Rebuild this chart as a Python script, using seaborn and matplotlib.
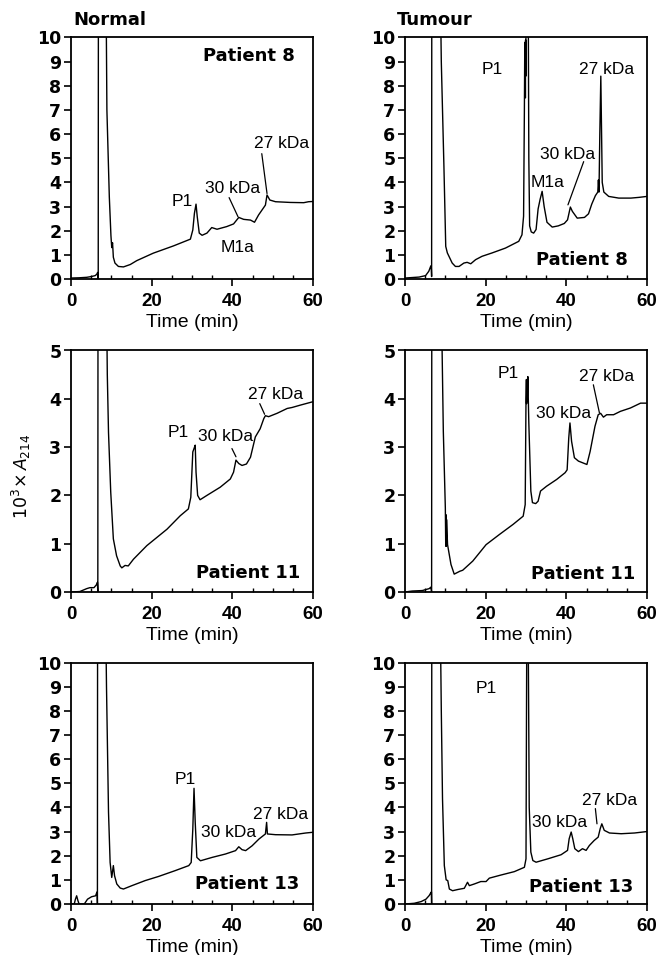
import pandas as pd
import seaborn as sns
import matplotlib.pyplot as plt
from matplotlib.ticker import MultipleLocator

# HPLC traces: time (min) vs 10^3 x A214
# values above the axis top are off-scale peaks, clipped by ylim

t_normal_8 = [0, 2, 3.9, 5, 6, 6.4, 6.6, 6.75, 6.8, 8.6, 8.9, 9.5, 9.9, 10.1, 10.3, 10.5, 10.9,
              11.75, 13, 14.7, 16.3, 20.4, 25.4, 29.6, 30.2, 30.6, 31.0, 31.3, 31.8, 32.5, 33.7,
              34.9, 36.2, 38.6, 40.3, 41.6, 42.8, 44.5, 45.5, 46.5, 48.2, 48.6, 49.3, 50.7, 54.4,
              57.7, 58.9, 60]
a_normal_8 = [0.04, 0.05, 0.07, 0.1, 0.14, 0.2, 0.27, 0.0, 14, 14, 7.0, 3.4, 1.8, 1.3, 1.5, 0.9, 0.66,
              0.52, 0.5, 0.6, 0.76, 1.07, 1.37, 1.65, 2.03, 2.72, 3.1, 2.58, 1.9, 1.81, 1.9,
              2.13, 2.06, 2.17, 2.28, 2.55, 2.47, 2.44, 2.35, 2.65, 3.06, 3.48, 3.27, 3.2, 3.17,
              3.16, 3.2, 3.21]

t_tumour_8 = [0, 3.5, 5.1, 5.9, 6.35, 6.5, 6.6, 6.65, 8.6, 9.0, 9.65, 10.1, 10.5, 10.9, 11.7, 12.5,
              13.4, 14.6, 15.4, 16.3, 17.5, 19.1, 21.6, 24.9, 28.2, 29.0, 29.4, 29.6, 29.7, 29.75,
              29.8, 29.85, 29.9, 29.95, 30.05, 30.5, 30.7, 30.9, 31.3, 31.9, 32.5, 33.0, 33.5, 34.0,
              34.5, 35.2, 36.5, 38.0, 39.5, 40.3, 41.0, 41.5, 42.7, 44.5, 45.5, 46.3, 47.2, 47.8,
              47.95, 48.1, 48.3, 48.55, 48.9, 49.3, 50.5, 53, 56, 58, 60]
a_tumour_8 = [0.04, 0.08, 0.14, 0.32, 0.52, 0.55, 0.1, 14, 14, 9.0, 4.66, 1.35, 1.08, 0.94, 0.66, 0.52,
              0.52, 0.66, 0.69, 0.63, 0.8, 0.94, 1.08, 1.28, 1.56, 1.83, 2.6, 7.0, 9.8, 8.2,
              9.7, 7.5, 9.9, 8.4, 14, 14, 5.0, 2.2, 1.95, 1.9, 2.05, 2.9, 3.3, 3.63,
              3.0, 2.35, 2.15, 2.2, 2.3, 2.45, 2.98, 2.8, 2.52, 2.55, 2.7, 3.1, 3.45, 3.6,
              4.1, 3.6, 6.0, 8.4, 4.0, 3.6, 3.42, 3.35, 3.35, 3.38, 3.42]

t_normal_11 = [0, 2.2, 3.9, 4.7, 5.7, 6.4, 6.55, 6.65, 6.7, 8.7, 9.0, 9.3, 9.85, 10.5, 11.3, 12.2,
               12.6, 13.4, 14.2, 15.5, 18.8, 23.8, 27.1, 29.1, 29.7, 30.2, 30.5, 30.8, 31.0, 31.4,
               32.0, 33.7, 37.0, 39.5, 40.3, 40.9, 41.6, 42.4, 43.5, 44.5, 45.7, 46.9, 47.8, 48.2,
               49.0, 51.1, 53.6, 54.8, 56.9, 60]
a_normal_11 = [0, 0.01, 0.07, 0.09, 0.09, 0.16, 0.2, 0.0, 7, 7, 4.5, 3.3, 2.07, 1.1, 0.75, 0.54,
               0.5, 0.55, 0.54, 0.68, 0.96, 1.3, 1.58, 1.72, 1.96, 2.9, 2.97, 3.04, 2.48, 2.0,
               1.91, 2.0, 2.17, 2.34, 2.48, 2.73, 2.66, 2.62, 2.65, 2.79, 3.21, 3.38, 3.59, 3.65,
               3.63, 3.7, 3.8, 3.82, 3.87, 3.94]

t_tumour_11 = [0, 1.8, 4.3, 6.0, 6.4, 6.6, 6.65, 8.9, 9.2, 9.5, 10.0, 10.1, 10.15, 10.25, 10.3, 10.55,
               11.4, 12.2, 12.9, 13.6, 14.3, 16.8, 20.1, 23.4, 26.8, 29.3, 29.8, 30.0, 30.1, 30.15,
               30.2, 30.3, 30.45, 30.7, 31.2, 31.6, 32.4, 33.0, 33.6, 35.1, 37.6, 39.7, 40.2, 40.6,
               40.9, 41.3, 42.0, 43.0, 44.2, 45.1, 45.9, 47.1, 47.9, 48.5, 49.2, 50.0, 51.7, 53.4,
               55.9, 58.4, 60]
a_tumour_11 = [0, 0.02, 0.03, 0.07, 0.1, 0.0, 7, 7, 5.0, 3.33, 1.74, 0.95, 1.6, 0.95, 1.5, 0.98,
               0.57, 0.37, 0.4, 0.43, 0.45, 0.64, 0.98, 1.19, 1.4, 1.57, 1.81, 4.0, 4.4, 3.9,
               4.3, 3.95, 4.46, 3.5, 2.09, 1.85, 1.83, 1.88, 2.09, 2.19, 2.33, 2.47, 2.53, 3.19,
               3.5, 3.12, 2.78, 2.71, 2.67, 2.64, 2.91, 3.43, 3.67, 3.7, 3.62, 3.67, 3.67, 3.74,
               3.81, 3.91, 3.91]

t_normal_13 = [0, 0.8, 1.1, 1.4, 1.7, 2.0, 3.3, 3.7, 4.1, 5.1, 6.1, 6.4, 6.5, 6.55, 6.6, 8.45, 8.8,
               9.3, 9.7, 10.1, 10.5, 10.8, 11.35, 12.2, 13.0, 15.1, 18.4, 21.7, 25.8, 29.2, 29.8,
               30.2, 30.5, 30.8, 31.2, 32.1, 35.0, 38.3, 40.8, 41.6, 42.4, 43.3, 44.9, 46.6, 48.2,
               48.5, 48.7, 50.7, 54.8, 58.2, 60]
a_normal_13 = [0, 0, 0.2, 0.34, 0.15, 0, 0, 0.1, 0.2, 0.3, 0.34, 0.48, 0.5, 0.0, 14, 14, 9,
               3.8, 1.72, 1.1, 1.59, 1.17, 0.83, 0.66, 0.62, 0.76, 0.97, 1.14, 1.38, 1.59, 1.72,
               3.1, 4.79, 3.38, 1.93, 1.79, 1.93, 2.07, 2.21, 2.37, 2.25, 2.21, 2.41, 2.69, 2.9,
               3.38, 2.9, 2.87, 2.86, 2.94, 2.97]

t_tumour_13 = [0, 2.3, 4.0, 5.2, 6.0, 6.45, 6.55, 6.6, 6.65, 8.6, 9.0, 9.3, 9.75, 10.2, 10.6, 11.0,
               11.8, 13.1, 14.7, 15.5, 15.95, 17.2, 18.8, 20.1, 20.9, 23.8, 27.1, 29.6, 30.0,
               30.25, 30.45, 30.8, 31.2, 31.7, 32.5, 35.4, 38.7, 40.3, 40.7, 41.2, 41.6, 42.1,
               43.0, 44.0, 44.9, 45.7, 46.9, 47.9, 48.4, 48.8, 49.4, 50.7, 53.6, 56.9, 60]
a_tumour_13 = [0, 0.03, 0.1, 0.2, 0.35, 0.48, 0.5, 0.0, 14, 14, 8, 4.36, 1.59, 1.0, 0.97, 0.62,
               0.55, 0.6, 0.65, 0.9, 0.76, 0.83, 0.93, 0.93, 1.07, 1.2, 1.34, 1.52, 1.87,
               14, 14, 4.0, 2.15, 1.8, 1.73, 1.87, 2.04, 2.22, 2.7, 2.98, 2.7, 2.29,
               2.17, 2.29, 2.22, 2.42, 2.63, 2.77, 3.12, 3.32, 3.05, 2.94, 2.91, 2.94, 3.0]

# peak labels: (text, time, value)
labels_normal_8 = [("P1", 27.5, 3.2), ("30 kDa", 40.0, 3.75), ("27 kDa", 52.3, 5.6), ("M1a", 41.3, 1.32)]
labels_tumour_8 = [("P1", 21.6, 8.66), ("30 kDa", 40.2, 5.15), ("27 kDa", 50.0, 8.66), ("M1a", 35.4, 4.0)]
labels_normal_11 = [("P1", 26.7, 3.31), ("30 kDa", 38.2, 3.21), ("27 kDa", 50.7, 4.09)]
labels_tumour_11 = [("P1", 25.5, 4.53), ("30 kDa", 39.2, 3.7), ("27 kDa", 50.0, 4.46)]
labels_normal_13 = [("P1", 28.3, 5.17), ("30 kDa", 39.1, 2.94), ("27 kDa", 51.9, 3.72)]
labels_tumour_13 = [("P1", 20.1, 8.93), ("30 kDa", 38.4, 3.39), ("27 kDa", 50.7, 4.29)]

# leader lines from labels to peaks: (t0, y0, t1, y1)
leaders_normal_8 = [(39.2, 3.37, 41.4, 2.58), (47.3, 5.19, 48.6, 3.54)]
leaders_tumour_8 = [(44.3, 4.86, 40.4, 3.07)]
leaders_normal_11 = [(39.9, 2.97, 40.9, 2.8), (46.8, 3.9, 48.0, 3.68)]
leaders_tumour_11 = [(46.7, 4.29, 48.2, 3.71)]
leaders_normal_13 = []
leaders_tumour_13 = [(47.2, 3.95, 47.6, 3.32)]

patients = ["Patient 8", "Patient 11", "Patient 13"]
patient_pos_normal = [(44.0, 9.25), (44.0, 0.4), (43.7, 0.83)]
patient_pos_tumour = [(43.9, 0.8), (44.2, 0.37), (43.6, 0.69)]
y_tops = [10, 5, 10]
x_ticks = [0, 20, 40, 60]


def draw_panel(ax, t, a, labels, leaders, patient, ppos, ytop):
    trace = pd.DataFrame({"time": t, "a214": a})
    sns.lineplot(data=trace, x="time", y="a214", ax=ax, sort=False, estimator=None,
                 color="black", linewidth=1.0)
    for t0, y0, t1, y1 in leaders:
        ax.plot([t0, t1], [y0, y1], color="black", linewidth=0.9)
    for text, tx, ty in labels:
        ax.text(tx, ty, text, ha="center", va="center", fontsize=12.5)
    # heavy sans for the patient tags
    ax.text(ppos[0], ppos[1], patient, ha="center", va="center", fontsize=13,
            fontweight="bold", family="DejaVu Sans")

    ax.set_xlim(0, 60)
    ax.set_ylim(0, ytop)
    ax.set_xticks(x_ticks, labels=[str(v) for v in x_ticks], fontweight="bold", fontsize=13.5)
    yt = list(range(0, ytop + 1))
    ax.set_yticks(yt, labels=[str(v) for v in yt], fontweight="bold", fontsize=12.5,
                  family="DejaVu Sans")
    ax.xaxis.set_minor_locator(MultipleLocator(5))
    ax.tick_params(axis="x", which="major", direction="out", length=5, width=1.2, pad=5)
    ax.tick_params(axis="y", which="major", direction="out", length=5, width=1.2, pad=2)
    ax.tick_params(axis="x", which="minor", direction="in", length=3, width=1.0)
    ax.set_xlabel("Time (min)", fontsize=14, labelpad=3)
    ax.set_ylabel("")
    for s in ax.spines.values():
        s.set_visible(True)
        s.set_linewidth(1.3)


def main():
    sns.set_style("ticks")
    plt.rcParams["font.family"] = ["Liberation Sans", "DejaVu Sans"]
    plt.rcParams["mathtext.fontset"] = "dejavusans"
    for key in ["text.color", "axes.labelcolor", "xtick.color", "ytick.color", "axes.edgecolor"]:
        plt.rcParams[key] = "black"

    fig = plt.figure(figsize=(6.6, 9.55), dpi=100)
    lefts = [71 / 660, 405 / 660]
    bottoms = [1 - 279 / 955, 1 - 592 / 955, 1 - 904 / 955]
    w, h = 242 / 660, 241.5 / 955

    normal = [(t_normal_8, a_normal_8, labels_normal_8, leaders_normal_8),
              (t_normal_11, a_normal_11, labels_normal_11, leaders_normal_11),
              (t_normal_13, a_normal_13, labels_normal_13, leaders_normal_13)]
    tumour = [(t_tumour_8, a_tumour_8, labels_tumour_8, leaders_tumour_8),
              (t_tumour_11, a_tumour_11, labels_tumour_11, leaders_tumour_11),
              (t_tumour_13, a_tumour_13, labels_tumour_13, leaders_tumour_13)]

    for r in range(3):
        ax = fig.add_axes([lefts[0], bottoms[r], w, h])
        draw_panel(ax, *normal[r], patients[r], patient_pos_normal[r], y_tops[r])
        ax = fig.add_axes([lefts[1], bottoms[r], w, h])
        draw_panel(ax, *tumour[r], patients[r], patient_pos_tumour[r], y_tops[r])

    fig.text(73 / 660, 1 - 20 / 955, "Normal", ha="left", va="center", fontsize=13,
             fontweight="bold", family="DejaVu Sans")
    fig.text(397 / 660, 1 - 20 / 955, "Tumour", ha="left", va="center", fontsize=13,
             fontweight="bold", family="DejaVu Sans")
    fig.text(21 / 660, 1 - 476 / 955, r"$10^3\!\times A_{214}$", rotation=90,
             ha="center", va="center", fontsize=12.5)

    fig.savefig("out.png", dpi=100)


if __name__ == "__main__":
    main()
